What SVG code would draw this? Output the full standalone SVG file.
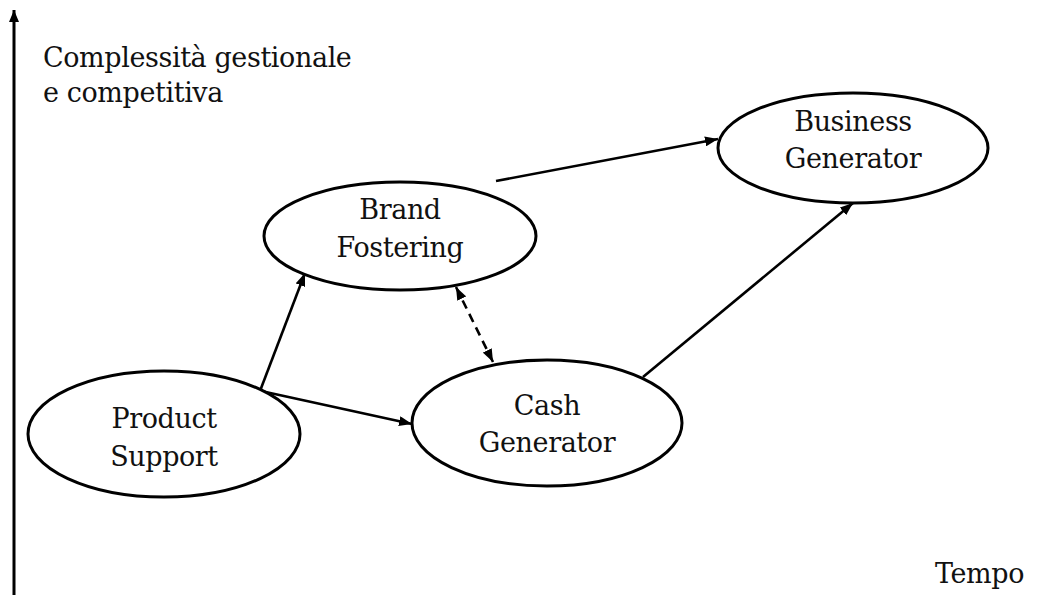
<svg xmlns="http://www.w3.org/2000/svg" width="1043" height="595" viewBox="0 0 1043 595">
  <style>
    .bg { fill: #ffffff; }
    .node { fill: #ffffff; stroke: #000000; stroke-width: 3; }
    .label { font-family: "DejaVu Serif", "Liberation Serif", serif; font-size: 27px; letter-spacing: -0.4px; fill: #111111; text-anchor: middle; }
    .axis-label { font-family: "DejaVu Serif", "Liberation Serif", serif; font-size: 27px; letter-spacing: -0.4px; fill: #111111; }
    .link { fill: none; stroke: #000000; stroke-width: 2.6; }
    .dashed { stroke-dasharray: 9 6; }
    .axis { fill: none; stroke: #000000; stroke-width: 3; }
  </style>
  <defs>
    <marker id="arrow" viewBox="0 0 13 10" refX="13" refY="5" markerWidth="13" markerHeight="10" markerUnits="userSpaceOnUse" orient="auto-start-reverse">
      <path d="M0,0 L13,5 L0,10 z" fill="#000000"/>
    </marker>
    <marker id="axis-arrow" viewBox="0 0 12 10" refX="12" refY="5" markerWidth="12" markerHeight="10" markerUnits="userSpaceOnUse" orient="auto">
      <path d="M0,0 L12,5 L0,10 z" fill="#000000"/>
    </marker>
  </defs>

  <rect class="bg" x="0" y="0" width="1043" height="595"/>

  <!-- vertical axis with its labels -->
  <g id="axis">
    <line class="axis" x1="14" y1="595" x2="14" y2="10" marker-end="url(#axis-arrow)"/>
    <text class="axis-label" x="43" y="67">Complessità gestionale</text>
    <text class="axis-label" x="43" y="102">e competitiva</text>
    <text class="axis-label" x="935" y="583">Tempo</text>
  </g>

  <!-- connectors -->
  <g id="connectors">
    <line class="link" x1="260" y1="391" x2="305" y2="273" marker-end="url(#arrow)"/>
    <line class="link" x1="261" y1="391" x2="412" y2="424" marker-end="url(#arrow)"/>
    <line class="link" x1="496" y1="181" x2="718" y2="139" marker-end="url(#arrow)"/>
    <line class="link" x1="643" y1="377" x2="853" y2="203" marker-end="url(#arrow)"/>
    <line class="link dashed" x1="456" y1="287" x2="493" y2="362" marker-start="url(#arrow)" marker-end="url(#arrow)"/>
  </g>

  <!-- nodes -->
  <g id="product-support">
    <ellipse class="node" cx="164" cy="434" rx="136" ry="63"/>
    <text class="label" x="164" y="428">Product</text>
    <text class="label" x="164" y="466">Support</text>
  </g>
  <g id="brand-fostering">
    <ellipse class="node" cx="400" cy="236" rx="136" ry="54"/>
    <text class="label" x="400" y="219">Brand</text>
    <text class="label" x="400" y="257">Fostering</text>
  </g>
  <g id="cash-generator">
    <ellipse class="node" cx="547" cy="423" rx="135" ry="63"/>
    <text class="label" x="547" y="415">Cash</text>
    <text class="label" x="547" y="452">Generator</text>
  </g>
  <g id="business-generator">
    <ellipse class="node" cx="853" cy="148" rx="135" ry="55"/>
    <text class="label" x="853" y="131">Business</text>
    <text class="label" x="853" y="168">Generator</text>
  </g>
</svg>
